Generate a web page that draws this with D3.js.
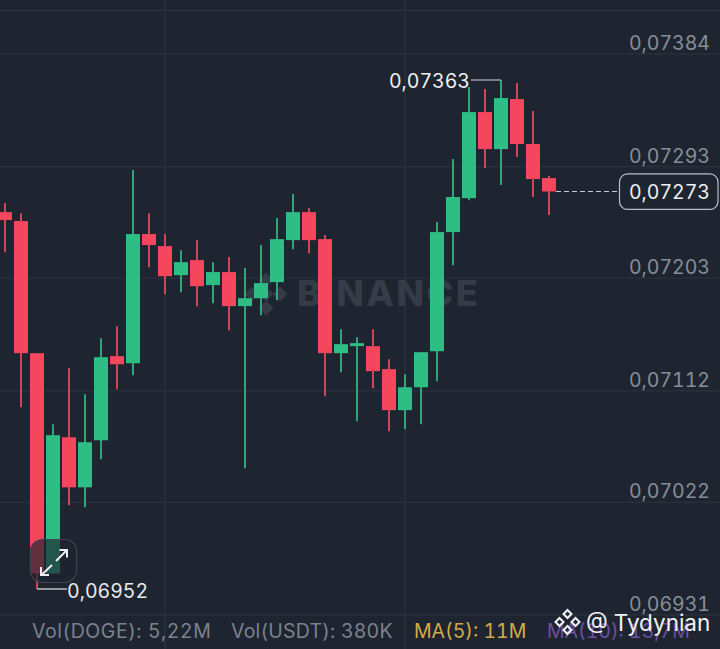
<!DOCTYPE html>
<html><head><meta charset="utf-8">
<script src="https://cdnjs.cloudflare.com/ajax/libs/d3/7.8.5/d3.min.js"></script>
<style>html,body{margin:0;padding:0;background:#1e2530}svg{display:block}text{font-family:Inter,"Noto Sans",sans-serif;font-variant-numeric:tabular-nums;font-feature-settings:"tnum" 1}</style>
</head><body><svg id="c" width="720" height="649"></svg>
<script>
// candle values, oldest first
const opens  = [0.072563,0.072491,0.071424,0.069646,0.070745,0.070341,0.070721,0.071400,0.071343,0.072386,0.072289,0.072054,0.072176,0.071974,0.072079,0.071804,0.071868,0.071998,0.072337,0.072563,0.072345,0.071424,0.071481,0.071481,0.071295,0.070964,0.071149,0.071440,0.072402,0.072676,0.073371,0.073072,0.073476,0.073113,0.072838];
const closes = [0.072499,0.071424,0.069646,0.070762,0.070341,0.070705,0.071392,0.071335,0.072386,0.072297,0.072046,0.072159,0.071965,0.072079,0.071804,0.071868,0.071990,0.072345,0.072563,0.072337,0.071424,0.071497,0.071505,0.071279,0.070964,0.071149,0.071432,0.072402,0.072685,0.073371,0.073072,0.073484,0.073113,0.072830,0.072730];
const highs  = [0.072636,0.072555,0.071424,0.070850,0.071303,0.071093,0.071545,0.071642,0.072903,0.072555,0.072386,0.072256,0.072337,0.072159,0.072200,0.072111,0.072297,0.072515,0.072709,0.072596,0.072378,0.071618,0.071553,0.071618,0.071376,0.071254,0.071432,0.072483,0.072992,0.073573,0.073557,0.073630,0.073606,0.073379,0.072854];
const lows   = [0.072240,0.070988,0.069520,0.069646,0.070196,0.070180,0.070568,0.071133,0.071246,0.072119,0.071901,0.071917,0.071804,0.071828,0.071610,0.070495,0.071731,0.071852,0.072264,0.072232,0.071077,0.071271,0.070875,0.071141,0.070794,0.070810,0.070850,0.071198,0.072135,0.072660,0.072919,0.072782,0.073008,0.072685,0.072539];
const priceTicks = [0.07384,0.07293,0.07203,0.07112,0.07022,0.06931];
const maxIndex = 31, minIndex = 2, lastPrice = 0.07273, maxPrice = 0.07363, minPrice = 0.06952;
const gridTimes = [10,25];
const volumeLabels = [["Vol(DOGE): 5,22M","#7b828e"],["Vol(USDT): 380K","#7b828e"],["MA(5): 11M","#d3ab47"],["MA(10): 13,7M","#6a4fa3"]];
const volumeX = [32,231,414,547];

const fmt = v => v.toFixed(5).replace(".", ",");
const UP="#2ebd85", DOWN="#f6465d", GRID="#2e3541", BG="#1e2530";
const svg = d3.select("#c");
const x = d3.scaleLinear().domain([0,34]).range([5,549]);
const y = d3.scaleLinear().domain([0.07384,0.06931]).range([54,615]);

// grid
svg.append("g").selectAll("line").data(priceTicks).join("line")
  .attr("x1",0).attr("x2",720).attr("y1",d=>y(d)).attr("y2",d=>y(d)).attr("stroke",GRID).attr("stroke-width",1);
svg.append("line").attr("x1",0).attr("x2",720).attr("y1",10.5).attr("y2",10.5).attr("stroke",GRID);
svg.append("g").selectAll("line").data(gridTimes).join("line")
  .attr("x1",d=>x(d)).attr("x2",d=>x(d)).attr("y1",0).attr("y2",649).attr("stroke",GRID).attr("stroke-width",1);

// watermark
const wm = svg.append("g");
wm.append("g").attr("transform","translate(266,294)").selectAll("path")
  .data([[0,-14],[-14,0],[14,0],[0,14],[0,0]]).join("path")
  .attr("transform",d=>`translate(${d[0]},${d[1]})`)
  .attr("d","M0,-7.5L7.5,0L0,7.5L-7.5,0Z").attr("fill","#353b47");
wm.append("text").attr("x",297).attr("y",306).attr("font-size",36).attr("font-weight",800)
  .attr("letter-spacing",2.5).attr("fill","#353b47").text("BINANCE");

// candles
const idx = d3.range(opens.length);
const col = i => closes[i]>=opens[i]?UP:DOWN;
const g = svg.append("g");
g.selectAll("line.w").data(idx).join("line").attr("class","w")
  .attr("x1",x).attr("x2",x).attr("y1",i=>y(highs[i])).attr("y2",i=>y(lows[i]))
  .attr("stroke",col).attr("stroke-width",2).attr("stroke-opacity",.85);
g.selectAll("rect").data(idx).join("rect")
  .attr("x",i=>x(i)-7).attr("width",14)
  .attr("y",i=>y(Math.max(opens[i],closes[i])))
  .attr("height",i=>Math.max(2,Math.abs(y(opens[i])-y(closes[i]))))
  .attr("fill",col);

// price axis labels
svg.append("g").selectAll("text").data(priceTicks).join("text")
  .attr("x",710).attr("y",d=>y(d)-4).attr("text-anchor","end").attr("font-size",19.5)
  .attr("fill","#878e99").text(fmt);

// last price
svg.append("line").attr("x1",x(34)+7).attr("x2",618).attr("y1",y(lastPrice)).attr("y2",y(lastPrice))
  .attr("stroke","#c8ccd2").attr("stroke-width",1.1).attr("stroke-dasharray","5 3");
svg.append("rect").attr("x",619.5).attr("y",y(lastPrice)-17.5).attr("width",98.5).attr("height",35.5).attr("rx",8)
  .attr("fill",BG).attr("stroke","#b9bec6").attr("stroke-width",1.2);
svg.append("text").attr("x",710).attr("y",y(lastPrice)+7.5).attr("text-anchor","end").attr("font-size",19.5)
  .attr("fill","#eef0f2").text(fmt(lastPrice));

// high / low markers
svg.append("path").attr("d",`M${x(maxIndex)},${y(maxPrice)}H471`).attr("stroke","#d5d8dc").attr("fill","none");
svg.append("text").attr("x",470).attr("y",y(maxPrice)+8).attr("text-anchor","end").attr("font-size",19.5)
  .attr("fill","#f0f1f3").text(fmt(maxPrice));
svg.append("path").attr("d",`M${x(minIndex)},${y(minPrice)}H67`).attr("stroke","#c8ccd2").attr("stroke-width",1.4).attr("fill","none");
svg.append("text").attr("x",67).attr("y",y(minPrice)+9).attr("font-size",19.5)
  .attr("fill","#e8eaec").text(fmt(minPrice));

// expand button
const b = svg.append("g");
b.append("rect").attr("x",30.5).attr("y",539.5).attr("width",46).attr("height",43).attr("rx",12)
  .attr("fill",BG).attr("fill-opacity",.68).attr("stroke","#3d444f").attr("stroke-width",1.2);
b.append("path").attr("d","M56,561L66,551M59.5,550H67V557.5M52,565L42,574.5M41,567V575H49").attr("fill","none")
  .attr("stroke","#eceef0").attr("stroke-width",2);

// volume row
svg.append("g").selectAll("text").data(volumeLabels).join("text")
  .attr("x",(d,i)=>volumeX[i]).attr("y",638).attr("font-size",19.5)
  .attr("letter-spacing",(d,i)=>i===0?0.55:(i===1?0.2:0)).attr("fill",d=>d[1]).text(d=>d[0]);

// author mark
const a = svg.append("g");
a.append("g").attr("transform","translate(567.5,622)").selectAll("path")
  .data([[0,-8],[-8,0],[8,0],[0,8]]).join("path")
  .attr("transform",d=>`translate(${d[0]},${d[1]})`)
  .attr("d","M0,-4L4,0L0,4L-4,0Z").attr("fill","none").attr("stroke","#f2f3f4").attr("stroke-width",2);
a.append("text").attr("x",586).attr("y",631).attr("font-size",22.5).attr("fill","#f2f3f4").text("@ Tydynian");
</script></body></html>
